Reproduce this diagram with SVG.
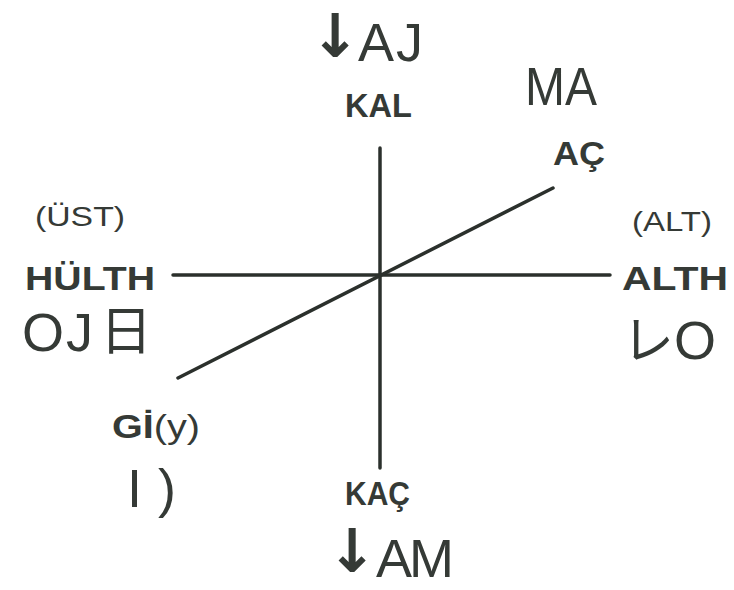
<svg xmlns="http://www.w3.org/2000/svg" width="734" height="590" viewBox="0 0 734 590">
<style>
.ln{stroke:#2b302c;stroke-width:3.5;fill:none;stroke-linecap:round}
.lb{font-family:"Liberation Sans",Arial,sans-serif;font-weight:bold;font-size:33px;fill:#353a36}
.pr{font-family:"Liberation Sans",Arial,sans-serif;font-size:28px;fill:#353a36}
.rn{font-family:"Liberation Sans","Noto Sans CJK JP",sans-serif;font-size:54px;fill:#353a36;font-weight:normal}
.ar{font-family:"DejaVu Sans",sans-serif;font-size:60px;font-weight:bold;fill:#353a36}
.cj{font-family:"Noto Sans CJK JP",sans-serif;font-size:52px;fill:#353a36;font-weight:normal}
</style>
<rect width="734" height="590" fill="#ffffff"/>
<g id="connectors">
<line class="ln" x1="380" y1="148" x2="380" y2="468"/>
<line class="ln" x1="173" y1="275" x2="610" y2="275"/>
<line class="ln" x1="178" y1="378" x2="553" y2="188"/>
</g>
<g id="top">
<text class="ar" x="335" y="57" text-anchor="middle">↓</text>
<text class="rn" x="358" y="61">A</text>
<text class="rn" x="396" y="61">J</text>
<text class="lb" x="345" y="117" textLength="67" lengthAdjust="spacingAndGlyphs">KAL</text>
</g>
<g id="topright">
<text class="rn" x="525" y="105" textLength="72" lengthAdjust="spacingAndGlyphs">MA</text>
<text class="lb" x="553" y="165" textLength="52" lengthAdjust="spacingAndGlyphs">AÇ</text>
</g>
<g id="left">
<text class="pr" x="35" y="226" textLength="90" lengthAdjust="spacingAndGlyphs">(ÜST)</text>
<text class="lb" x="25" y="290" textLength="130" lengthAdjust="spacingAndGlyphs">HÜLTH</text>
<text class="rn" x="22" y="351">O</text>
<text class="rn" x="66" y="351">J</text>
<text class="cj" x="100" y="350">日</text>
</g>
<g id="right">
<text class="pr" x="632" y="231" textLength="80" lengthAdjust="spacingAndGlyphs">(ALT)</text>
<text class="lb" x="622" y="290" textLength="106" lengthAdjust="spacingAndGlyphs">ALTH</text>
<text class="rn" x="622" y="359"><tspan class="cj">レ</tspan><tspan>O</tspan></text>
</g>
<g id="bottomleft">
<text class="lb" x="112" y="438" textLength="88" lengthAdjust="spacingAndGlyphs">Gİ<tspan font-weight="normal">(y)</tspan></text>
<text class="rn" x="127" y="507">I</text>
<text class="rn" x="158" y="507">)</text>
</g>
<g id="bottom">
<text class="lb" x="345" y="505" textLength="65" lengthAdjust="spacingAndGlyphs">KAÇ</text>
<text class="ar" x="352" y="572" text-anchor="middle">↓</text>
<text class="rn" x="376" y="577" font-size="50">A</text>
<text class="rn" x="409" y="577" font-size="50">M</text>
</g>
</svg>
